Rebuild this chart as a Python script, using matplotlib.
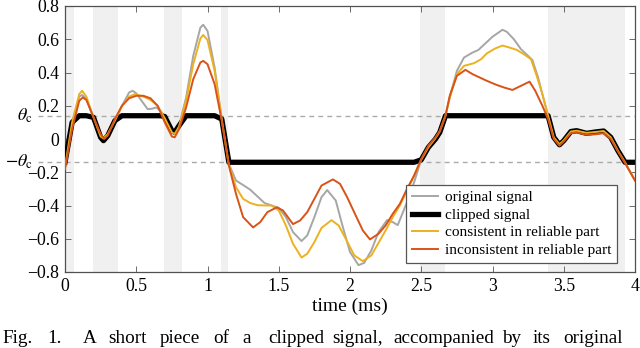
import numpy as np
import matplotlib
matplotlib.use("Agg")
import matplotlib.pyplot as plt
from matplotlib.ticker import FixedLocator, FuncFormatter

plt.rcParams['font.family'] = ['Liberation Serif', 'DejaVu Serif']
plt.rcParams['mathtext.fontset'] = 'stix'

theta_c = 0.14

# original signal (gray)
t_orig = [0.00, 0.05, 0.10, 0.12, 0.15, 0.20, 0.25, 0.27, 0.30, 0.35, 0.40, 0.45, 0.475, 0.50,
          0.55, 0.58, 0.61, 0.64, 0.67, 0.70, 0.75, 0.77, 0.80, 0.85, 0.90, 0.95, 0.97, 1.00,
          1.05, 1.10, 1.15, 1.20, 1.25, 1.30, 1.35, 1.40, 1.45, 1.50, 1.55, 1.60, 1.66, 1.70,
          1.75, 1.80, 1.84, 1.90, 1.95, 2.00, 2.06, 2.10, 2.15, 2.20, 2.26, 2.30, 2.335, 2.40,
          2.45, 2.50, 2.55, 2.60, 2.63, 2.67, 2.70, 2.75, 2.80, 2.86, 2.90, 2.95, 3.00, 3.07,
          3.10, 3.15, 3.20, 3.25, 3.28, 3.32, 3.35, 3.39, 3.43, 3.47, 3.50, 3.55, 3.59, 3.66,
          3.72, 3.78, 3.83, 3.88, 3.93, 4.00]
v_orig = [-0.17, 0.10, 0.255, 0.265, 0.24, 0.13, 0.01, -0.01, 0.02, 0.11, 0.20, 0.28, 0.29, 0.275,
          0.215, 0.18, 0.182, 0.19, 0.17, 0.135, 0.05, 0.04, 0.08, 0.25, 0.50, 0.67, 0.687, 0.65,
          0.43, 0.12, -0.15, -0.25, -0.277, -0.305, -0.345, -0.385, -0.40, -0.415, -0.47, -0.56, -0.614, -0.58,
          -0.47, -0.35, -0.307, -0.37, -0.53, -0.68, -0.759, -0.745, -0.67, -0.56, -0.488, -0.50, -0.518, -0.38,
          -0.26, -0.125, -0.05, 0.0, 0.04, 0.14, 0.25, 0.41, 0.49, 0.52, 0.535, 0.575, 0.615, 0.657,
          0.645, 0.60, 0.54, 0.50, 0.475, 0.37, 0.27, 0.14, 0.01, -0.035, -0.01, 0.045, 0.05, 0.034,
          0.042, 0.048, 0.01, -0.07, -0.14, -0.25]

# consistent in reliable part (yellow)
t_cons = [0.00, 0.05, 0.10, 0.12, 0.15, 0.20, 0.25, 0.27, 0.30, 0.35, 0.40, 0.45, 0.49, 0.55,
          0.60, 0.65, 0.70, 0.75, 0.77, 0.80, 0.85, 0.90, 0.95, 0.97, 1.00, 1.05, 1.10, 1.15,
          1.20, 1.25, 1.30, 1.35, 1.40, 1.45, 1.50, 1.55, 1.60, 1.66, 1.70, 1.75, 1.80, 1.87,
          1.92, 1.97, 2.03, 2.09, 2.15, 2.20, 2.25, 2.30, 2.35, 2.40, 2.45, 2.50, 2.55, 2.60,
          2.63, 2.67, 2.70, 2.75, 2.80, 2.87, 2.92, 2.96, 3.02, 3.07, 3.12, 3.17, 3.22, 3.27,
          3.31, 3.35, 3.39, 3.43, 3.47, 3.50, 3.55, 3.59, 3.66, 3.72, 3.78, 3.83, 3.88, 3.93, 4.00]
v_cons = [-0.17, 0.10, 0.27, 0.29, 0.255, 0.13, 0.015, 0.003, 0.03, 0.11, 0.20, 0.255, 0.27, 0.255,
          0.235, 0.20, 0.125, 0.04, 0.03, 0.075, 0.23, 0.45, 0.605, 0.626, 0.595, 0.41, 0.12, -0.155,
          -0.29, -0.36, -0.385, -0.398, -0.40, -0.40, -0.43, -0.52, -0.63, -0.713, -0.69, -0.62, -0.535, -0.488,
          -0.52, -0.60, -0.70, -0.735, -0.70, -0.625, -0.55, -0.47, -0.40, -0.31, -0.22, -0.125, -0.05, 0.005,
          0.045, 0.14, 0.25, 0.39, 0.44, 0.456, 0.48, 0.515, 0.545, 0.562, 0.55, 0.536, 0.51, 0.48,
          0.38, 0.27, 0.14, 0.01, -0.032, -0.008, 0.045, 0.05, 0.037, 0.042, 0.048, 0.01, -0.07, -0.14, -0.25]

# inconsistent in reliable part (orange)
t_inc = [0.00, 0.05, 0.10, 0.125, 0.15, 0.20, 0.25, 0.275, 0.30, 0.35, 0.40, 0.45, 0.50, 0.55,
         0.60, 0.65, 0.70, 0.75, 0.77, 0.80, 0.85, 0.90, 0.95, 0.97, 1.00, 1.05, 1.10, 1.15,
         1.20, 1.25, 1.32, 1.37, 1.42, 1.487, 1.53, 1.60, 1.65, 1.70, 1.75, 1.80, 1.88, 1.93,
         1.98, 2.04, 2.09, 2.14, 2.20, 2.25, 2.30, 2.35, 2.40, 2.45, 2.50, 2.55, 2.60, 2.63,
         2.67, 2.70, 2.75, 2.81, 2.86, 2.91, 2.96, 3.03, 3.08, 3.14, 3.20, 3.26, 3.30, 3.35,
         3.39, 3.43, 3.47, 3.50, 3.55, 3.59, 3.66, 3.72, 3.78, 3.83, 3.88, 3.93, 4.00]
v_inc = [-0.18, 0.06, 0.23, 0.25, 0.235, 0.13, 0.03, 0.0, 0.02, 0.12, 0.20, 0.245, 0.26, 0.26,
         0.245, 0.20, 0.10, 0.015, 0.01, 0.06, 0.19, 0.36, 0.46, 0.47, 0.45, 0.33, 0.11, -0.16,
         -0.33, -0.47, -0.532, -0.50, -0.44, -0.411, -0.43, -0.512, -0.49, -0.44, -0.36, -0.28, -0.243, -0.27,
         -0.35, -0.46, -0.55, -0.604, -0.57, -0.52, -0.45, -0.39, -0.30, -0.22, -0.12, -0.04, 0.01, 0.05,
         0.14, 0.26, 0.38, 0.416, 0.39, 0.37, 0.35, 0.325, 0.31, 0.295, 0.32, 0.345, 0.29, 0.20,
         0.12, 0.0, -0.04, -0.015, 0.035, 0.04, 0.025, 0.028, 0.035, 0.0, -0.075, -0.145, -0.25]

# reliable (shaded) intervals
reliable = [(0.0, 0.063), (0.197, 0.369), (0.697, 0.824), (1.095, 1.147),
            (2.493, 2.669), (3.39, 3.93)]

xticks = [0, 0.5, 1, 1.5, 2, 2.5, 3, 3.5, 4]
yticks = [-0.8, -0.6, -0.4, -0.2, 0, 0.2, 0.4, 0.6, 0.8]

W, H = 640, 348
fig = plt.figure(figsize=(W / 100, H / 100), dpi=100)
ax = fig.add_axes([65 / W, 1 - 272 / H, 570 / W, 266 / H])

for a, b in reliable:
    ax.axvspan(a, b, color='#f0f0f0', lw=0, zorder=0)

for s in (theta_c, -theta_c):
    ax.plot([-0.19, 4], [s, s], ls=(0, (3.5, 3)), color='#aaaaaa', lw=1.0,
            clip_on=False, zorder=1)

t_orig_a = np.array(t_orig)
v_orig_a = np.array(v_orig)
clipped = np.clip(v_orig_a, -theta_c, theta_c)

l1, = ax.plot(t_orig_a, v_orig_a, color='#a6a6a6', lw=1.4, zorder=2, label='original signal')
l2, = ax.plot(t_orig_a, clipped, color='black', lw=3.8, zorder=3, label='clipped signal',
              solid_joinstyle='round')
l3, = ax.plot(t_cons, v_cons, color='#EDB120', lw=1.4, zorder=4, label='consistent in reliable part')
l4, = ax.plot(t_inc, v_inc, color='#D95319', lw=1.4, zorder=5, label='inconsistent in reliable part')

ax.set_xlim(0, 4)
ax.set_ylim(-0.8, 0.8)
ax.xaxis.set_major_locator(FixedLocator(xticks))
ax.yaxis.set_major_locator(FixedLocator(yticks))


def fmt(v, pos):
    s = ('%g' % round(v, 3))
    return s.replace('-', '\u2212')


ax.xaxis.set_major_formatter(FuncFormatter(fmt))
ax.yaxis.set_major_formatter(FuncFormatter(fmt))
ax.tick_params(direction='in', top=True, right=True, length=4, width=0.6,
               color='#555555', labelsize=12.8, pad=4)
for sp in ax.spines.values():
    sp.set_color('#505050')
    sp.set_linewidth(0.9)

ax.text(-0.225, theta_c, r'$\theta_{\mathrm{c}}$', ha='right', va='center', fontsize=13,
        transform=ax.transData, clip_on=False)
ax.text(-0.225, -theta_c, r'$-\theta_{\mathrm{c}}$', ha='right', va='center', fontsize=13,
        transform=ax.transData, clip_on=False)

ax.set_xlabel('time (ms)', fontsize=14, labelpad=2)

leg = ax.legend(handles=[l1, l2, l3, l4], loc='lower right',
                bbox_to_anchor=(1 - 18 / 570, 9 / 266), fontsize=11,
                frameon=True, fancybox=False, framealpha=1, edgecolor='#555555',
                handlelength=1.75, handletextpad=0.4, borderpad=0.4, labelspacing=0.25,
                borderaxespad=0)
leg.get_frame().set_linewidth(0.9)

# caption (justified word by word)
words = ["Fig.", "1.", "A", "short", "piece", "of", "a", "clipped", "signal,",
         "accompanied", "by", "its", "original"]
word_x = [2, 47, 83, 108, 160, 213, 242, 268, 332, 393, 502, 533, 563]
for w, x in zip(words, word_x):
    fig.text(x / W, 1 - 343 / H, w, ha='left', va='baseline', fontsize=13.8)

fig.savefig('out.png', dpi=100)
